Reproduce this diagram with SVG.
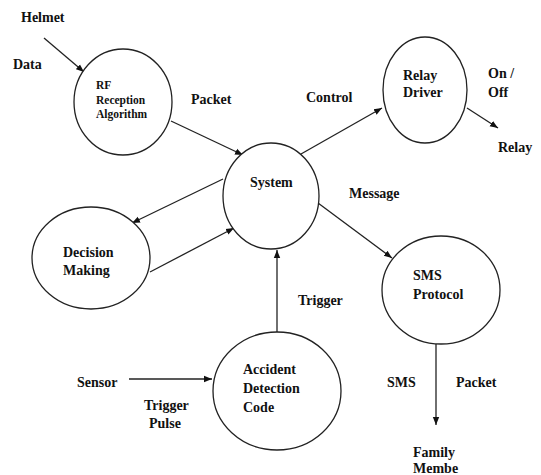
<svg xmlns="http://www.w3.org/2000/svg" width="541" height="475" viewBox="0 0 541 475">
<style>
.n{fill:#fff;stroke:#222;stroke-width:1.3}
.t{font-family:'Liberation Serif','DejaVu Serif',serif;font-weight:700;font-size:14px;fill:#111}
.s{font-size:11.5px}
.c{stroke:#222;stroke-width:1.3;fill:none;marker-end:url(#a)}
</style>
<defs>
<marker id="a" viewBox="0 0 10 10" refX="10" refY="5" markerWidth="8" markerHeight="8" markerUnits="userSpaceOnUse" orient="auto">
<path d="M0,1 L10,5 L0,9 Z" fill="#111"/>
</marker>
</defs>
<rect width="541" height="475" fill="#fff"/>
<g id="connectors">
<line class="c" x1="44" y1="38" x2="84" y2="72"/>
<line class="c" x1="171" y1="121" x2="243" y2="155"/>
<line class="c" x1="223" y1="179" x2="132" y2="223"/>
<line class="c" x1="150" y1="272" x2="234" y2="228"/>
<line class="c" x1="301" y1="154" x2="382" y2="108"/>
<line class="c" x1="467" y1="108" x2="498" y2="128"/>
<line class="c" x1="318" y1="203" x2="392" y2="258"/>
<line class="c" x1="277" y1="332" x2="277" y2="250"/>
<line class="c" x1="129" y1="379" x2="212" y2="379"/>
<line class="c" x1="436" y1="344" x2="436" y2="425"/>
</g>
<g id="rf">
<ellipse class="n" cx="123" cy="102" rx="49" ry="53"/>
<text class="t s" x="96" y="89">RF</text>
<text class="t s" x="96" y="103.5">Reception</text>
<text class="t s" x="96" y="118">Algorithm</text>
</g>
<g id="system">
<ellipse class="n" cx="271" cy="196" rx="48" ry="53"/>
<text class="t" x="250" y="187">System</text>
</g>
<g id="relay-driver">
<ellipse class="n" cx="425" cy="90" rx="42" ry="53"/>
<text class="t" x="403" y="80">Relay</text>
<text class="t" x="403" y="97">Driver</text>
</g>
<g id="decision">
<ellipse class="n" cx="91" cy="258" rx="59" ry="51"/>
<text class="t" x="63" y="257">Decision</text>
<text class="t" x="63" y="275">Making</text>
</g>
<g id="sms">
<ellipse class="n" cx="441" cy="290" rx="59" ry="54"/>
<text class="t" x="413" y="280">SMS</text>
<text class="t" x="413" y="299">Protocol</text>
</g>
<g id="accident">
<ellipse class="n" cx="277" cy="391" rx="64" ry="59"/>
<text class="t" x="243" y="374">Accident</text>
<text class="t" x="243" y="393">Detection</text>
<text class="t" x="243" y="412">Code</text>
</g>
<g id="labels">
<text class="t" x="21" y="22">Helmet</text>
<text class="t" x="13" y="69">Data</text>
<text class="t" x="191" y="104">Packet</text>
<text class="t" x="306" y="102">Control</text>
<text class="t" x="488" y="78">On /</text>
<text class="t" x="488" y="97">Off</text>
<text class="t" x="498" y="152">Relay</text>
<text class="t" x="349" y="198">Message</text>
<text class="t" x="298" y="305">Trigger</text>
<text class="t" x="77" y="387">Sensor</text>
<text class="t" x="144" y="410">Trigger</text>
<text class="t" x="149" y="428">Pulse</text>
<text class="t" x="387" y="387">SMS</text>
<text class="t" x="456" y="387">Packet</text>
<text class="t" x="413" y="457">Family</text>
<text class="t" x="413" y="473">Membe</text>
</g>
</svg>
